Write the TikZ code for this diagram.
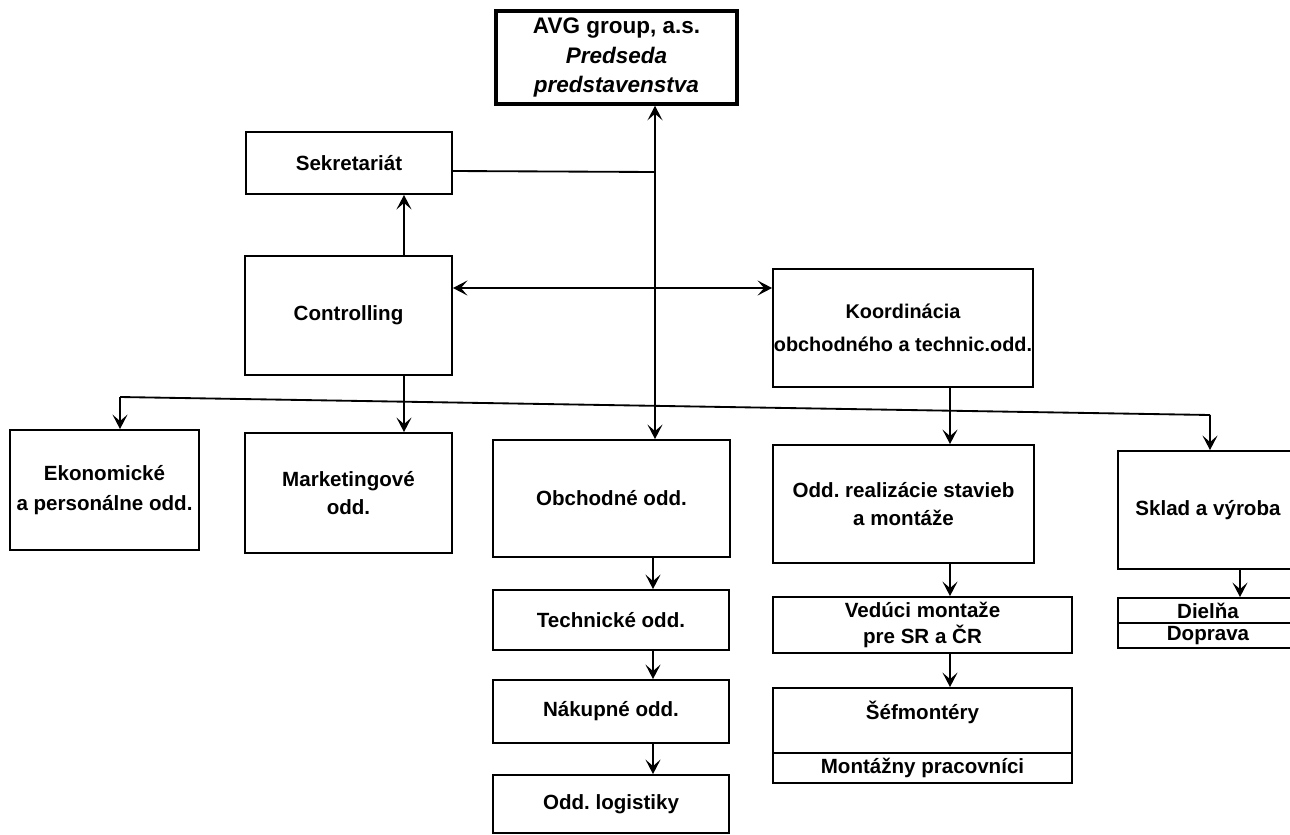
\documentclass[tikz,border=0pt]{standalone}
\usepackage{fontspec}
\setmainfont{Liberation Sans}
\usetikzlibrary{arrows.meta,calc}
\frenchspacing
\begin{document}
\begin{tikzpicture}[x=0.2mm,y=-0.2mm,
  bx/.style={draw, line width=1.05pt, inner sep=0pt, align=center, font=\bfseries\fontsize{11.7}{17}\selectfont},
  sz/.style 2 args={minimum width=#1*0.2mm, minimum height=#2*0.2mm},
  tip/.tip={Stealth[length=2.9mm,width=3mm,inset=1.3mm]},
  arr/.style={-tip, line width=1.05pt},
  arrb/.style={tip-tip, line width=1.05pt},
  ln/.style={line width=1.05pt}]
\useasboundingbox (0,0) rectangle (1290,835);
\clip (0,0) rectangle (1290,835);

% boxes
\node[bx, sz={241}{93}, line width=2pt, font=\bfseries\fontsize{12.8}{16.8}\selectfont] (top) at (616.5,57.5)
  {AVG group, a.s.\\{\itshape Predseda}\\{\itshape predstavenstva}};
\node[bx, sz={206}{62}] (sek) at (349,163) {Sekretariát};
\node[bx, sz={207}{119}] (ctrl) at (348.5,315.5) {Controlling};
\node[bx, sz={260}{118}, font=\bfseries\fontsize{11.3}{18.5}\selectfont] (koord) at (903,328) {Koordinácia\\obchodného a technic.odd.};
\node[bx, sz={189}{120}] (ekon) at (104.5,490) {Ekonomické\\a personálne odd.};
\node[bx, sz={207}{120}, font=\bfseries\fontsize{11.7}{16}\selectfont] (mark) at (348.5,493) {Marketingové\\odd.};
\node[bx, sz={237}{117}] (obch) at (611.5,498.5) {Obchodné odd.};
\node[bx, sz={261}{118}, font=\bfseries\fontsize{11.7}{16}\selectfont] (real) at (903.5,504) {Odd. realizácie stavieb\\a montáže};
\node[bx, sz={180}{118}] (sklad) at (1208,510) {Sklad a výroba};
\node[bx, sz={180}{25}] (diel) at (1208,610.5) {Dielňa};
\node[bx, sz={180}{25}] (dopr) at (1208,635.5) {Doprava};
\node[bx, sz={236}{60}] (tech) at (611,620) {Technické odd.};
\node[bx, sz={236}{63}] (nak) at (611,711.5) {Nákupné odd.};
\node[bx, sz={236}{58}] (log) at (611,804) {Odd. logistiky};
\node[bx, sz={299}{56}, font=\bfseries\fontsize{11.7}{15}\selectfont] (ved) at (922.5,625) {Vedúci montaže\\pre SR a ČR};
\node[bx, sz={299}{65}, text depth=12pt] (sef) at (922.5,720.5) {Šéfmontéry};
\node[bx, sz={299}{30}] (mont) at (922.5,768) {Montážny pracovníci};

% helper coordinates
\coordinate (v) at (655,0);
\coordinate (h) at (0,288);
\coordinate (c1) at (404,0);
\coordinate (c2) at (950,0);
\coordinate (c3) at (653,0);
\coordinate (c4) at (1240,0);
\coordinate (busL) at (120,397);
\coordinate (busR) at (1210,415);

% connectors
\draw[arrb] (top.south -| v) -- (obch.north -| v);
\draw[ln] ($(sek.east)+(0,8)$) -- ($(sek.east -| v)+(0,9)$);
\draw[arrb] (ctrl.east |- h) -- (koord.west |- h);
\draw[arr] (ctrl.north -| c1) -- (sek.south -| c1);
\draw[arr] (ctrl.south -| c1) -- (mark.north -| c1);
\draw[ln] (busL) -- (busR);
\draw[arr] (busL) -- (busL |- ekon.north);
\draw[arr] (busR) -- (busR |- sklad.north);
\draw[arr] (koord.south -| c2) -- (real.north -| c2);
\draw[arr] (real.south -| c2) -- (ved.north -| c2);
\draw[arr] (ved.south -| c2) -- (sef.north -| c2);
\draw[arr] (obch.south -| c3) -- (tech.north -| c3);
\draw[arr] (tech.south -| c3) -- (nak.north -| c3);
\draw[arr] (nak.south -| c3) -- (log.north -| c3);
\draw[arr] (sklad.south -| c4) -- (diel.north -| c4);
\end{tikzpicture}
\end{document}
